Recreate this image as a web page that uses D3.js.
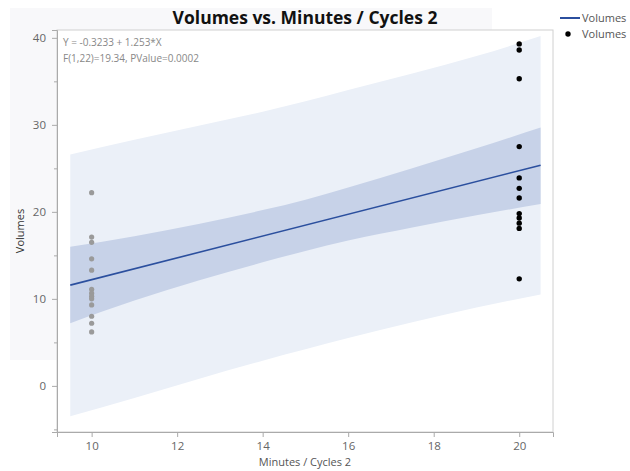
<!DOCTYPE html>
<html>
<head>
<meta charset="utf-8">
<script src="https://cdn.jsdelivr.net/npm/d3@7"></script>
<style>
  body { margin: 0; background: #fff; }
  text { font-family: 'Open Sans', sans-serif; }
</style>
</head>
<body>
<div id="chart"></div>
<script>
// fitted band
const bandX = [9.5, 11, 12.5, 14, 15, 16, 17.5, 19, 20.5]
const meanLow = [7.2, 9.8, 12.1, 14.2, 15.5, 16.7, 18.2, 19.6, 20.9]
const meanHigh = [16.0, 17.2, 18.6, 20.2, 21.4, 22.8, 25.0, 27.3, 29.7]
const predLow = [-3.5, -1.4, 0.8, 2.9, 4.2, 5.5, 7.3, 9.0, 10.5]
const predHigh = [26.6, 28.3, 29.9, 31.5, 32.7, 34.0, 35.9, 37.9, 40.2]

// regression line end points (Y = -0.3233 + 1.253*X)
const fitX = [9.5, 20.5]
const fitY = [11.58, 25.36]

// observations
const grayX = 10
const grayY = [22.2, 17.1, 16.5, 14.6, 13.3, 11.1, 10.65, 10.3, 10.0, 9.3, 8.0, 7.2, 6.2]
const blackX = 20
const blackY = [39.3, 38.6, 35.3, 27.5, 23.9, 22.7, 21.6, 19.8, 19.3, 18.7, 18.1, 12.3]

const xTicks = [10, 12, 14, 16, 18, 20]
const yTicks = [0, 10, 20, 30, 40]
const yMinor = [-5, 5, 15, 25, 35]

const statLines = ['Y = -0.3233 + 1.253*X', 'F(1,22)=19.34, PValue=0.0002']

const width = 630
const height = 471
const margin = { top: 30, left: 57, right: 77, bottom: 39 }

const svg = d3
  .select('#chart')
  .append('svg')
  .attr('width', width)
  .attr('height', height)

// faint screenshot backdrop
svg
  .append('rect')
  .attr('x', 10)
  .attr('y', 8)
  .attr('width', 482)
  .attr('height', 352)
  .attr('fill', '#f8f8fa')

const x = d3.scaleLinear().domain([9.19, 20.79]).range([margin.left, width - margin.right])
const y = d3.scaleLinear().domain([-5.3, 40.9]).range([height - margin.bottom, margin.top])

svg
  .append('rect')
  .attr('x', margin.left)
  .attr('y', margin.top)
  .attr('width', width - margin.left - margin.right)
  .attr('height', height - margin.top - margin.bottom)
  .attr('fill', '#fff')
  .attr('stroke', '#d0d0d0')

const area = (lo, hi) =>
  d3
    .area()
    .x((d, i) => x(bandX[i]))
    .y0((d, i) => y(lo[i]))
    .y1((d, i) => y(hi[i]))
    .curve(d3.curveMonotoneX)

svg.append('path').datum(bandX).attr('d', area(predLow, predHigh)).attr('fill', '#ebf0f8')
svg.append('path').datum(bandX).attr('d', area(meanLow, meanHigh)).attr('fill', '#c7d2e8')

svg
  .append('path')
  .datum(fitX)
  .attr('d', d3.line().x(d => x(d)).y((d, i) => y(fitY[i])))
  .attr('stroke', '#2b4f9e')
  .attr('stroke-width', 1.6)
  .attr('fill', 'none')

svg
  .selectAll('.gray-dot')
  .data(grayY)
  .enter()
  .append('circle')
  .attr('cx', x(grayX))
  .attr('cy', d => y(d))
  .attr('r', 2.6)
  .attr('fill', '#9a9a9a')

svg
  .selectAll('.black-dot')
  .data(blackY)
  .enter()
  .append('circle')
  .attr('cx', x(blackX))
  .attr('cy', d => y(d))
  .attr('r', 2.7)
  .attr('fill', '#000')

// axes
const xAxis = svg
  .append('g')
  .attr('transform', `translate(0,${height - margin.bottom})`)
  .call(d3.axisBottom(x).tickValues(xTicks).tickSize(5).tickPadding(5))
const yAxis = svg
  .append('g')
  .attr('transform', `translate(${margin.left},0)`)
  .call(d3.axisLeft(y).tickValues(yTicks).tickSize(5).tickPadding(6))

svg
  .append('g')
  .attr('transform', `translate(${margin.left},0)`)
  .call(d3.axisLeft(y).tickValues(yMinor).tickSize(3).tickFormat(''))
  .call(g => g.select('.domain').remove())
  .selectAll('line')
  .attr('stroke', '#aaa')

;[xAxis, yAxis].forEach(g => {
  g.select('.domain').attr('stroke', '#aaa')
  g.selectAll('.tick line').attr('stroke', '#aaa')
  g.selectAll('.tick text').attr('fill', '#666').attr('font-size', 11.5)
})

svg
  .append('text')
  .text('Minutes / Cycles 2')
  .attr('x', (margin.left + width - margin.right) / 2)
  .attr('y', 466)
  .attr('text-anchor', 'middle')
  .attr('font-size', 11)
  .attr('fill', '#555')

svg
  .append('text')
  .text('Volumes')
  .attr('transform', `translate(24,${(margin.top + height - margin.bottom) / 2}) rotate(-90)`)
  .attr('text-anchor', 'middle')
  .attr('font-size', 11)
  .attr('fill', '#333')

svg
  .append('text')
  .text('Volumes vs. Minutes / Cycles 2')
  .attr('x', 305)
  .attr('y', 24)
  .attr('text-anchor', 'middle')
  .attr('font-family', "'DejaVu Sans', sans-serif")
  .attr('font-size', 17.5)
  .attr('font-weight', 'bold')
  .attr('fill', '#111')

svg
  .selectAll('.stat')
  .data(statLines)
  .enter()
  .append('text')
  .text(d => d)
  .attr('x', 63)
  .attr('y', (d, i) => 46 + i * 16)
  .attr('font-size', 10)
  .attr('fill', '#888')

// legend
const legend = svg.append('g').attr('transform', 'translate(558,0)')
legend
  .append('line')
  .attr('x1', 2)
  .attr('x2', 22)
  .attr('y1', 18)
  .attr('y2', 18)
  .attr('stroke', '#2b4f9e')
  .attr('stroke-width', 2)
legend.append('circle').attr('cx', 10).attr('cy', 34).attr('r', 2.7).attr('fill', '#000')
legend
  .selectAll('.legend-text')
  .data(['Volumes', 'Volumes'])
  .enter()
  .append('text')
  .text(d => d)
  .attr('x', 24)
  .attr('y', (d, i) => 22 + i * 16)
  .attr('font-size', 11)
  .attr('fill', '#555')
</script>
</body>
</html>
